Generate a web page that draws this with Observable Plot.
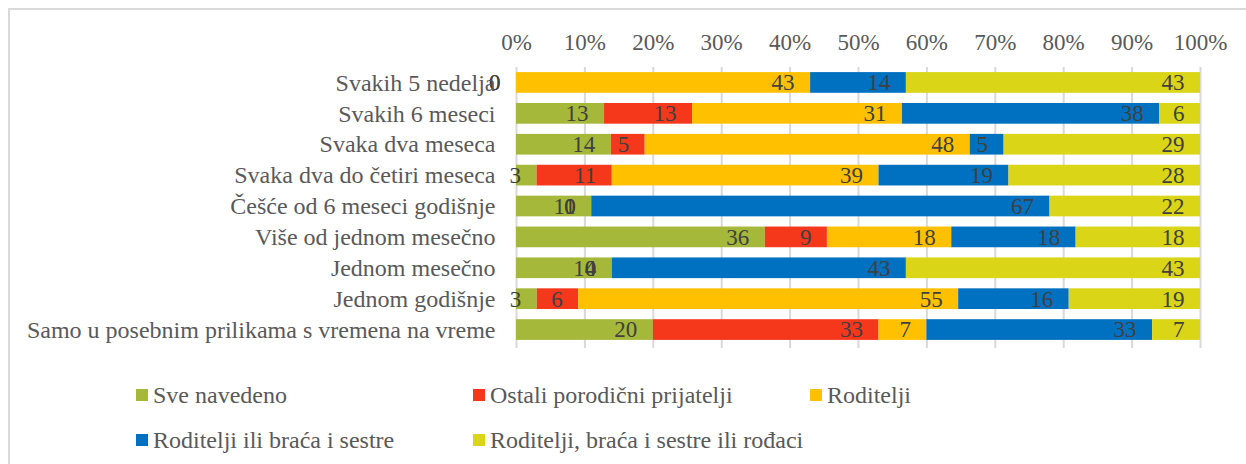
<!DOCTYPE html>
<html><head><meta charset="utf-8">
<script src="https://cdn.jsdelivr.net/npm/d3@7"></script>
<script src="https://cdn.jsdelivr.net/npm/@observablehq/plot@0.6"></script>
<style>
body{margin:0;background:#fff;font-family:"Liberation Serif","Times New Roman",serif;}
#wrap{position:relative;width:1246px;height:464px;overflow:hidden;background:#fff;}
#frame{position:absolute;left:8px;top:8px;width:1300px;height:500px;border-left:2px solid #d9d9d9;border-top:2px solid #d9d9d9;}
#chart{position:absolute;left:0;top:0;}
#legend{position:absolute;left:136px;top:383px;display:grid;grid-template-columns:337px 337px 337px;row-gap:21px;}
.item{display:flex;align-items:center;font-size:24px;color:#595959;height:24px;white-space:nowrap;}
.sw{width:12px;height:12px;margin-right:5px;flex:none;}
</style></head>
<body>
<div id="wrap"><div id="frame"></div><div id="chart"></div><div id="legend"></div></div>
<script>
const categories = ["Svakih 5 nedelja","Svakih 6 meseci","Svaka dva meseca","Svaka dva do četiri meseca","Češće od 6 meseci godišnje","Više od jednom mesečno","Jednom mesečno","Jednom godišnje","Samo u posebnim prilikama s vremena na vreme"];
const series = ["Sve navedeno","Ostali porodični prijatelji","Roditelji","Roditelji ili braća i sestre","Roditelji, braća i sestre ili rođaci"];
const colors = ["#A5B83A","#F5371B","#FFC000","#0070C0","#DAD516"];
const sveNavedeno    = [0,13,14,3,11,36,14,3,20];
const ostali         = [0,13,5,11,0,9,0,6,33];
const roditelji      = [43,31,48,39,0,18,0,55,7];
const roditeljiBraca = [14,38,5,19,67,18,43,16,33];
const rodjaci        = [43,6,29,28,22,18,43,19,7];
const tickValues = [0,0.1,0.2,0.3,0.4,0.5,0.6,0.7,0.8,0.9,1];
const tickLabels = ["0%","10%","20%","30%","40%","50%","60%","70%","80%","90%","100%"];

const seriesValues = [sveNavedeno, ostali, roditelji, roditeljiBraca, rodjaci];
const data = [];
categories.forEach((c, i) => series.forEach((s, j) => data.push({cat: c, series: s, value: seriesValues[j][i]})));

const font = '"Liberation Serif","Times New Roman",serif';
const chart = Plot.plot({
  width: 1246, height: 370,
  marginLeft: 516, marginRight: 46, marginTop: 67, marginBottom: 25,
  style: {fontFamily: font, background: "transparent"},
  x: {domain: [0, 1]},
  y: {domain: categories, paddingInner: 0.33, paddingOuter: 0.165, round: false},
  color: {domain: series, range: colors},
  marks: [
    Plot.gridX(tickValues, {stroke: "#d9d9d9", strokeOpacity: 1, strokeWidth: 2, insetBottom: -3}),
    Plot.barX(data, Plot.stackX({x: "value", y: "cat", fill: "series", offset: "normalize", order: series})),
    Plot.text(data, Plot.stackX2({x: "value", y: "cat", z: "series", offset: "normalize", order: series, text: d => String(d.value), textAnchor: "end", dx: -16, fill: "#404040", fontSize: 23})),
    Plot.axisX({anchor: "top", ticks: tickValues, tickFormat: (d, i) => tickLabels[i], tickSize: 0, tickPadding: 18, fontSize: 23, fill: "#595959", label: null}),
    Plot.axisY({tickSize: 0, tickPadding: 21, fontSize: 24, fill: "#595959", label: null})
  ]
});
document.getElementById("chart").appendChild(chart);

const legend = document.getElementById("legend");
series.forEach((s, i) => {
  const it = document.createElement("div");
  it.className = "item";
  const sw = document.createElement("span");
  sw.className = "sw"; sw.style.background = colors[i];
  it.appendChild(sw);
  it.appendChild(document.createTextNode(s));
  legend.appendChild(it);
});
</script>
</body></html>
